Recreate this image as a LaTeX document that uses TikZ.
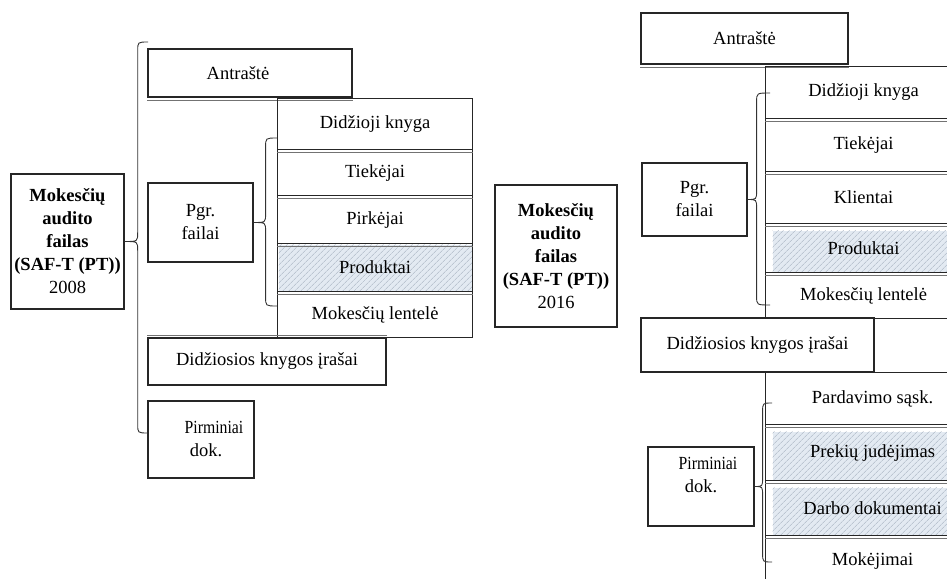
\documentclass[tikz,border=0pt]{standalone}
\usepackage{graphicx}
\usepackage{fontspec}
\setmainfont{Liberation Serif}
\usetikzlibrary{calc}
\usetikzlibrary{patterns.meta}
\definecolor{hatchbg}{HTML}{E3EAF2}
\definecolor{hatchln}{HTML}{A7B2C0}
\newcommand{\narrow}[1]{\scalebox{0.85}[1]{#1}}
% curly brace: tip, upper end, lower end, spine offset
\newcommand{\curly}[4]{%
  \draw[brace] let \p1=(#1), \p2=(#2), \p3=(#3) in
    (\p2) .. controls (\x1+#4,\y2) .. (\x1+#4,\y2-9pt)
    -- (\x1+#4,\y1+9pt) .. controls (\x1+#4,\y1) .. (\p1)
    .. controls (\x1+#4,\y1) .. (\x1+#4,\y1-9pt)
    -- (\x1+#4,\y3+9pt) .. controls (\x1+#4,\y3) .. (\p3);}

\begin{document}
\begin{tikzpicture}[x=1pt,y=-1pt,font=\fontsize{18.5}{23}\selectfont,
  mainbox/.style={draw=black!85,line width=1.4pt,inner sep=0pt,align=center},
  box/.style={draw=black!85,line width=1.2pt,inner sep=0pt,align=center},
  row/.style={draw=black!85,line width=1.1pt,inner sep=0pt,anchor=north west,minimum width=#1},
  row/.default=195pt,
  hatched/.style={path picture={\fill[pattern={Lines[angle=45,distance=4pt,line width=0.6pt]},
      pattern color=hatchln,preaction={fill=hatchbg}]
      ([shift={(#1,-#1)}]path picture bounding box.north west) rectangle (path picture bounding box.south east);}},
  hatched/.default=1pt,
  shadowline/.style={draw=black!55,line width=0.8pt},
  brace/.style={draw=black!80,line width=0.9pt}]
\useasboundingbox (0,0) rectangle (947,578);
\clip (0,0) rectangle (947,578);

% 2008
\node[mainbox,minimum width=113pt,minimum height=135pt] (main08) at (67.5,241.5)
  {\textbf{Mokesčių}\\\textbf{audito}\\\textbf{failas}\\\textbf{(SAF-T (PT))}\\2008};
\node[box,minimum width=204pt,minimum height=48pt] (antr08) at (250,73) {Antraštė\hspace*{24pt}};
\draw[shadowline] ([yshift=-2.5pt]antr08.south west) -- ([yshift=-2.5pt]antr08.south east);

\node[row,minimum height=51pt] (dk08) at (277,98) {Didžioji knyga};
\node[row,minimum height=46pt] (tk08) at (277,149) {Tiekėjai};
\node[row,minimum height=48pt] (pk08) at (277,195) {Pirkėjai};
\node[row,hatched,minimum height=48pt] (pr08) at (277,243) {Produktai};
\node[row,minimum height=46pt] (ml08) at (277,291) {Mokesčių lentelė};
\draw[shadowline] ([yshift=-2.5pt]dk08.south west) -- ([yshift=-2.5pt]dk08.south east);
\draw[shadowline] ([yshift=-2.5pt]tk08.south west) -- ([yshift=-2.5pt]tk08.south east);
\draw[shadowline] ([yshift=-2.5pt]pk08.south west) -- ([yshift=-2.5pt]pk08.south east);
\draw[shadowline] ([yshift=-2.5pt]pr08.south west) -- ([yshift=-2.5pt]pr08.south east);

\node[box,minimum width=105pt,minimum height=79pt] (pgr08) at (200.5,222.5) {Pgr.\\failai};
\node[box,minimum width=238pt,minimum height=47pt] (dki08) at (267,361.5) {Didžiosios knygos įrašai};
\draw[shadowline] ([yshift=2pt]dki08.north west) -- ([yshift=2pt]dki08.north east);
\node[box,minimum width=106pt,minimum height=77pt] (pirm08) at (201,439.5)
  {\hspace*{26pt}\narrow{Pirminiai}\\\hspace*{10pt}dok.};

\coordinate (bigtop) at (148,42);
\coordinate (bigbot) at (148,433);
\curly{main08.east}{bigtop}{bigbot}{13pt}
\coordinate (pgr08top) at (277,138);
\coordinate (pgr08bot) at (277,306);
\curly{pgr08.east}{pgr08top}{pgr08bot}{12pt}

% 2016
\node[mainbox,minimum width=122pt,minimum height=142pt] (main16) at (556,256)
  {\textbf{Mokesčių}\\\textbf{audito}\\\textbf{failas}\\\textbf{(SAF-T (PT))}\\2016};
\node[box,minimum width=207pt,minimum height=51pt] (antr16) at (744.5,38.5) {Antraštė};
\draw[shadowline] ([yshift=-2.5pt]antr16.south west) -- ([yshift=-2.5pt]antr16.south east);

\node[row=196pt,minimum height=52pt] (dk16) at (765,66) {Didžioji knyga};
\node[row=196pt,minimum height=53pt] (tk16) at (765,118) {Tiekėjai};
\node[row=196pt,minimum height=52pt] (kl16) at (765,171) {Klientai};
\node[row=196pt,hatched=7pt,minimum height=49pt] (pr16) at (765,223) {Produktai};
\node[row=196pt,minimum height=46pt] (ml16) at (765,272) {Mokesčių lentelė};
\draw[shadowline] ([yshift=-2.5pt]dk16.south west) -- ([yshift=-2.5pt]dk16.south east);
\draw[shadowline] ([yshift=-2.5pt]tk16.south west) -- ([yshift=-2.5pt]tk16.south east);
\draw[shadowline] ([yshift=-2.5pt]kl16.south west) -- ([yshift=-2.5pt]kl16.south east);
\draw[shadowline] ([yshift=-2.5pt]pr16.south west) -- ([yshift=-2.5pt]pr16.south east);

\node[box,minimum width=105pt,minimum height=73pt] (pgr16) at (694.5,199.5) {Pgr.\\failai};
\node[box,minimum width=233pt,minimum height=54pt] (dki16) at (757.5,345) {Didžiosios knygos įrašai};
\node[row=100pt,minimum height=54pt] (dkx16) at (874,318) {};

\node[row=214pt,minimum height=52pt] (ps16) at (765,372) {Pardavimo sąsk.};
\node[row=214pt,hatched=7pt,minimum height=56pt] (pj16) at (765,424) {Prekių judėjimas};
\node[row=214pt,hatched=7pt,minimum height=55pt] (dd16) at (765,480) {Darbo dokumentai};
\node[row=214pt,minimum height=50pt] (mk16) at (765,535) {Mokėjimai};
\draw[shadowline] ([yshift=-2.5pt]ps16.south west) -- ([yshift=-2.5pt]ps16.south east);
\draw[shadowline] ([yshift=-2.5pt]pj16.south west) -- ([yshift=-2.5pt]pj16.south east);
\draw[shadowline] ([yshift=-2.5pt]dd16.south west) -- ([yshift=-2.5pt]dd16.south east);

\node[box,minimum width=106pt,minimum height=79pt] (pirm16) at (701,486.5)
  {\hspace*{14pt}\narrow{Pirminiai}\\dok.\\\mbox{}};

\coordinate (pgr16top) at (770,93);
\coordinate (pgr16bot) at (770,305);
\curly{pgr16.east}{pgr16top}{pgr16bot}{9pt}
\coordinate (pirm16top) at (772,403);
\coordinate (pirm16bot) at (772,562);
\curly{pirm16.east}{pirm16top}{pirm16bot}{8pt}
\end{tikzpicture}
\end{document}
